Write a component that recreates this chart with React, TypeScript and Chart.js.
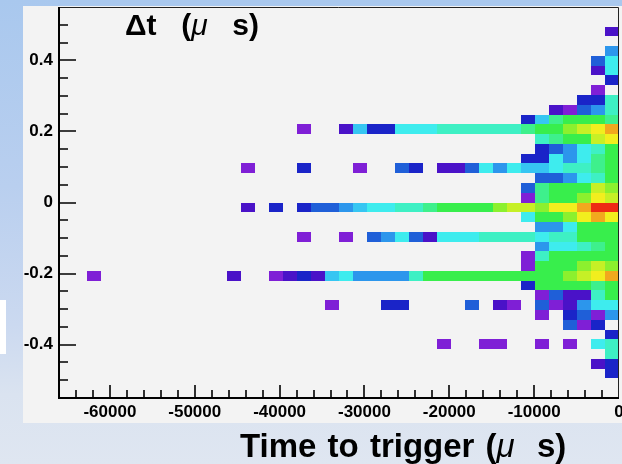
import React, { useEffect, useRef } from "react";
import { Chart, registerables } from "chart.js";

Chart.register(...registerables);

// ---- axis ranges and binning (40 x 40 bins, as in the ROOT histogram) ----
const xMin = -66000;
const xMax = 0;
const xBinWidth = 1650;
const yMin = -0.55;
const yMax = 0.55;
const yBinHeight = 0.0275;

const xTickValues = [-60000, -50000, -40000, -30000, -20000, -10000, 0];
const yTickValues = [-0.4, -0.2, 0, 0.2, 0.4];
const xMinorStep = 2000;
const yMinorStep = 0.05;

const xTitleParts = ["Time to trigger (", "\u03bc", "\u00a0 s)"];
const yTitleParts = ["\u0394t\u00a0 (", "\u03bc", "\u00a0 s)"];

// colour levels 1..15 (ROOT rainbow palette, low -> high)
const palette = [
  "#7f1fd6", "#4a12c8", "#1a24c8", "#1f5fd8", "#2c96ec",
  "#36c6f2", "#3eecee", "#3ef0c4", "#3ef08c", "#38ee4c",
  "#8cf02e", "#c6f026", "#f2ee1e", "#f2a81e", "#ee2a14",
];

// one string per y bin, top (bin 39) to bottom (bin 0); 40 x bins each,
// written in groups of ten; character = colour level (hex), '.' = empty
const rowLevels = [
  ".......... .......... .......... ..........",
  ".......... .......... .......... ..........",
  ".......... .......... .......... .........2",
  ".......... .......... .......... ..........",
  ".......... .......... .......... .........5",
  ".......... .......... .......... ........47",
  ".......... .......... .......... ........27",
  ".......... .......... .......... .........3",
  ".......... .......... .......... ........1.",
  ".......... .......... .......... .......338",
  ".......... .......... .......... .....21458",
  ".......... .......... .......... ...369aaa9",
  ".......... .......1.. 2633777888 8889aabcde",
  ".......... .......... .......... ....89aacd",
  ".......... .......... .......... ....34578a",
  ".......... .......... .......... ...337579a",
  ".......... ...1...3.. .1..43.224 757667889a",
  ".......... .......... .......... ....44578a",
  ".......... .......... .......... ...49aaacb",
  ".......... .......... .......... ...19aabdc",
  ".......... ...2.3.344 5677889aaa abccbddeff",
  ".......... .......... .......... ...7aabded",
  ".......... .......... .......... ....557aaa",
  ".......... .......1.. 1.45742777 8888788aaa",
  ".......... .......... .......... ....57789a",
  ".......... .......... .......... ...18aaaaa",
  ".......... .......... .......... ...1aaabcb",
  "..1....... ..2..12326 755558aaaa aaaaaabcde",
  ".......... .......... .......... ...3aaaa9a",
  ".......... .......... .......... ....14228a",
  ".......... .........1 ...33....4 .21.412577",
  ".......... .......... .......... ....1.3415",
  ".......... .......... .......... ......413.",
  ".......... .......... .......... .........3",
  ".......... .......... .......1.. 11..1.1.78",
  ".......... .......... .......... .........8",
  ".......... .......... .......... ........23",
  ".......... .......... .......... .........3",
  ".......... .......... .......... ..........",
  ".......... .......... .......... ..........",
];

type Cell = { x: number; y: number; v: number };

function buildCells(): Cell[] {
  const cells: Cell[] = [];
  const nRows = rowLevels.length;
  rowLevels.forEach((row, r) => {
    const chars = row.replace(/ /g, "");
    const j = nRows - 1 - r;
    for (let i = 0; i < chars.length; i++) {
      const c = chars[i];
      if (c === ".") continue;
      const v = parseInt(c, 16);
      cells.push({
        x: xMin + (i + 0.5) * xBinWidth,
        y: yMin + (j + 0.5) * yBinHeight,
        v,
      });
    }
  });
  return cells;
}

const FONT = "'Liberation Sans', Arial, Helvetica, sans-serif";

const heatmapPlugin = {
  id: "heatmapCells",
  beforeDatasetsDraw(chart: any) {
    const { ctx, chartArea } = chart;
    const xs = chart.scales.x;
    const ys = chart.scales.y;
    const data = chart.data.datasets[0].data as Cell[];
    ctx.save();
    ctx.beginPath();
    ctx.rect(chartArea.left, chartArea.top, chartArea.right - chartArea.left, chartArea.bottom - chartArea.top);
    ctx.clip();
    for (const p of data) {
      const x0 = Math.round(xs.getPixelForValue(p.x - xBinWidth / 2));
      const x1 = Math.round(xs.getPixelForValue(p.x + xBinWidth / 2));
      const y0 = Math.round(ys.getPixelForValue(p.y - yBinHeight / 2));
      const y1 = Math.round(ys.getPixelForValue(p.y + yBinHeight / 2));
      ctx.fillStyle = palette[p.v - 1];
      ctx.fillRect(x0, y1, x1 - x0, y0 - y1);
    }
    ctx.restore();
  },
  afterDraw(chart: any) {
    const { ctx, chartArea } = chart;
    const xs = chart.scales.x;
    const ys = chart.scales.y;
    const { left, right, top, bottom } = chartArea;
    ctx.save();
    // frame
    ctx.strokeStyle = "#222";
    ctx.lineWidth = 1;
    ctx.beginPath();
    ctx.moveTo(left, top + 0.5);
    ctx.lineTo(right - 0.5, top + 0.5);
    ctx.lineTo(right - 0.5, bottom);
    ctx.stroke();
    ctx.strokeStyle = "#000";
    ctx.lineWidth = 2;
    ctx.beginPath();
    ctx.moveTo(left, top);
    ctx.lineTo(left, bottom);
    ctx.lineTo(right, bottom);
    ctx.stroke();
    // ticks, drawn inside the frame
    ctx.lineWidth = 1.6;
    ctx.beginPath();
    const kx0 = Math.ceil(xMin / xMinorStep);
    const kx1 = Math.floor(xMax / xMinorStep);
    for (let k = kx0; k <= kx1; k++) {
      const v = k * xMinorStep;
      if (v <= xMin || v >= xMax) continue;
      const px = Math.round(xs.getPixelForValue(v));
      const len = v % 10000 === 0 ? 13 : 8;
      ctx.moveTo(px, bottom);
      ctx.lineTo(px, bottom - len);
    }
    const ky0 = Math.ceil(yMin / yMinorStep - 1e-9);
    const ky1 = Math.floor(yMax / yMinorStep + 1e-9);
    for (let k = ky0; k <= ky1; k++) {
      const v = k * yMinorStep;
      if (v <= yMin + 1e-9 || v >= yMax - 1e-9) continue;
      const py = Math.round(ys.getPixelForValue(v));
      const len = k % 4 === 0 ? 17 : 9;
      ctx.moveTo(left, py);
      ctx.lineTo(left + len, py);
    }
    ctx.stroke();
    ctx.restore();
  },
};

const muStyle: React.CSSProperties = { fontStyle: "italic", fontWeight: "normal" };

export default function App() {
  const canvasRef = useRef<HTMLCanvasElement | null>(null);

  useEffect(() => {
    const canvas = canvasRef.current;
    if (!canvas) return;
    const chart = new Chart(canvas, {
      type: "scatter",
      data: {
        datasets: [
          {
            data: buildCells() as any,
            pointRadius: 0,
            pointHoverRadius: 0,
            showLine: false,
          },
        ],
      },
      options: {
        responsive: false,
        maintainAspectRatio: false,
        animation: false,
        events: [],
        layout: { padding: { left: 0, right: 3, top: 7, bottom: 26 } },
        plugins: {
          legend: { display: false },
          tooltip: { enabled: false },
          title: { display: false },
        },
        scales: {
          x: {
            type: "linear",
            min: xMin,
            max: xMax,
            grid: { display: false, drawTicks: false },
            border: { display: false },
            ticks: {
              color: "#000",
              padding: 4,
              maxRotation: 0,
              autoSkip: false,
              font: { family: FONT, size: 17, weight: "bold" },
              callback: (v: any) => String(v),
            },
            afterBuildTicks: (scale: any) => {
              scale.ticks = xTickValues.map((v) => ({ value: v }));
            },
            afterFit: (scale: any) => {
              scale.height = 40;
              scale.paddingLeft = 0;
              scale.paddingRight = 0;
            },
          },
          y: {
            type: "linear",
            min: yMin,
            max: yMax,
            grid: { display: false, drawTicks: false },
            border: { display: false },
            ticks: {
              color: "#000",
              padding: 6,
              autoSkip: false,
              font: { family: FONT, size: 17, weight: "bold" },
              callback: (v: any) => String(v),
            },
            afterBuildTicks: (scale: any) => {
              scale.ticks = yTickValues.map((v) => ({ value: v }));
            },
            afterFit: (scale: any) => {
              scale.width = 36;
              scale.paddingTop = 0;
              scale.paddingBottom = 0;
            },
          },
        },
      },
      plugins: [heatmapPlugin],
    });
    return () => chart.destroy();
  }, []);

  return (
    <div
      style={{
        position: "absolute",
        left: 0,
        top: 0,
        width: 622,
        height: 464,
        overflow: "hidden",
        background:
          "linear-gradient(180deg, #a9c8ee 0%, #b9cfef 40%, #cbd9f0 70%, #dae3f0 85%, #dfe6f1 100%)",
        fontFamily: FONT,
      }}
    >
      <div style={{ position: "absolute", left: 0, top: 300, width: 6, height: 54, background: "#ffffff" }} />
      <div style={{ position: "absolute", left: 23, top: 6, width: 599, height: 417, background: "#f3f3f3" }} />
      <canvas
        ref={canvasRef}
        width={599}
        height={464}
        style={{ position: "absolute", left: 23, top: 0, width: 599, height: 464 }}
      />
      <div
        style={{
          position: "absolute",
          left: 125,
          top: 10,
          fontSize: 30,
          fontWeight: "bold",
          lineHeight: 1,
          whiteSpace: "pre",
          wordSpacing: 4,
          color: "#000",
        }}
      >
        {yTitleParts[0]}
        <span style={muStyle}>{yTitleParts[1]}</span>
        {yTitleParts[2]}
      </div>
      <div
        style={{
          position: "absolute",
          left: 240,
          top: 429,
          fontSize: 33,
          fontWeight: "bold",
          lineHeight: 1,
          whiteSpace: "pre",
          wordSpacing: 2,
          color: "#000",
        }}
      >
        {xTitleParts[0]}
        <span style={muStyle}>{xTitleParts[1]}</span>
        {xTitleParts[2]}
      </div>
    </div>
  );
}
